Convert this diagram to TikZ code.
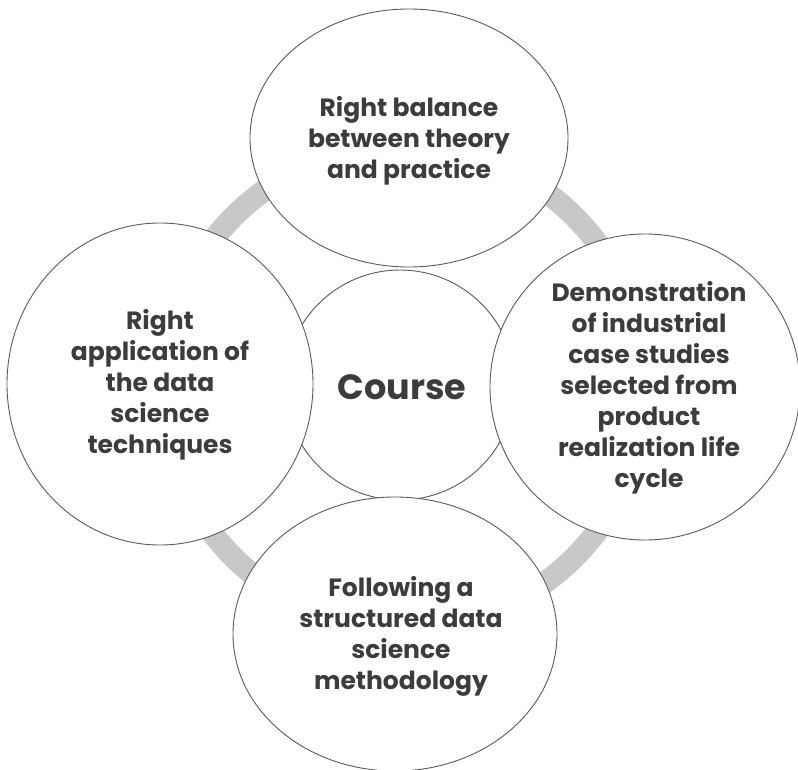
\documentclass[tikz,border=0pt]{standalone}
\usepackage{fontspec}
\setmainfont{Poppins}
\usetikzlibrary{shapes.geometric}

\definecolor{ringgray}{HTML}{C8C8C8}
\definecolor{edgegray}{HTML}{5A5A5A}
\definecolor{textgray}{HTML}{3C3C3C}

\tikzset{
  bubble/.style={ellipse, draw=edgegray, line width=0.9pt, fill=white, inner sep=0pt},
  words/.style={align=center, text=textgray, font=\bfseries\fontsize{25}{31}\selectfont},
  ring/.style={draw=ringgray, line width=22pt}
}

\begin{document}
\begin{tikzpicture}[x=1pt, y=-1pt]
\useasboundingbox (0,0) rectangle (798,770);

% ring behind everything
\coordinate (ctr) at (404,387);
\draw[ring] (ctr) circle [radius=241pt];

% centre circle
\node[bubble, minimum width=230pt, minimum height=230pt] (course) at (400,385) {};
\node[words, font=\bfseries\fontsize{35}{40}\selectfont] (coursetxt) at (402,387) {Course};

% outer bubbles
\node[bubble, minimum width=318pt, minimum height=258pt] (top) at (409,138) {};
\node[bubble, minimum width=306pt, minimum height=322pt] (left) at (160,384) {};
\node[bubble, minimum width=310pt, minimum height=306pt] (right) at (645,387) {};
\node[bubble, minimum width=324pt, minimum height=274pt] (bottom) at (395,634) {};

\node[words] (toptxt) at (409,141) {Right balance\\between theory\\and practice};
\node[words] (lefttxt) at (160,385) {Right\\application of\\the data\\science\\techniques};
\node[words] (righttxt) at (649,388) {Demonstration\\of industrial\\case studies\\selected from\\product\\realization life\\cycle};
\node[words] (bottomtxt) at (401,636) {Following a\\structured data\\science\\methodology};
\end{tikzpicture}
\end{document}
